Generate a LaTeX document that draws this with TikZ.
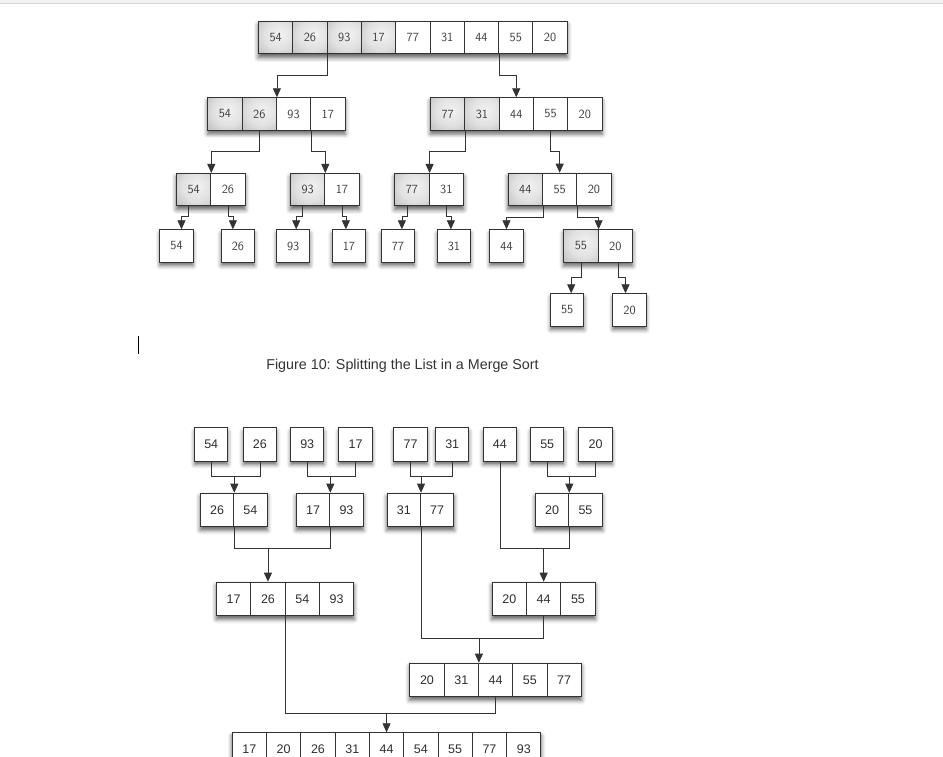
\documentclass[tikz,border=0pt]{standalone}
\usepackage{fontspec}
\newfontfamily\arialfont{Liberation Sans}
\usetikzlibrary{arrows.meta,fit,backgrounds,shadows.blur}

\definecolor{boxline}{HTML}{333333}
\definecolor{digit}{HTML}{3f3f3f}
\pgfdeclareradialshading{cellglow}{\pgfpoint{6bp}{6bp}}{color(0bp)=(black!5); color(22bp)=(black!12); color(50bp)=(black!32); color(75bp)=(black!45)}

\tikzset{
  cell/.style={draw=boxline, line width=1pt, fill=white, minimum width=34.3pt, minimum height=32.4pt,
    inner sep=0pt, anchor=north west, font=\fontsize{12.5}{14}\sffamily, text=digit},
  mcell/.style={cell, minimum width=33.3pt, minimum height=33.3pt, font=\fontsize{12.5}{14}\arialfont, text=black!82},
  half/.style={shade, shading=cellglow},
  plain/.style={},
  box shadow/.style={blur shadow={shadow xshift=0pt, shadow yshift=-3.5pt, shadow blur radius=4pt, shadow opacity=60}},
  single/.style={minimum width=33.4pt, box shadow},
  flow/.style={draw=boxline, line width=0.8pt, -{Triangle[length=9pt,width=8pt]}},
  link/.style={draw=boxline, line width=0.8pt},
}

\begin{document}
\begin{tikzpicture}[x=1pt,y=-1pt]
  \path[use as bounding box] (0,0) rectangle (943,757);
  \fill[black!5] (0,0) rectangle (943,3.2);
  \draw[black!16, line width=0.8pt] (0,3.4) -- (943,3.4);

  % splitting
  \foreach \v/\s [count=\i] in {54/half,26/half,93/half,17/half,77/plain,31/plain,44/plain,55/plain,20/plain}
    \node[cell,\s] (a\i) at ({258+34.3*(\i-1)},21) {\v};
  \foreach \v/\s [count=\i] in {54/half,26/half,93/plain,17/plain}
    \node[cell,\s] (b\i) at ({207.3+34.3*(\i-1)},97.3) {\v};
  \foreach \v/\s [count=\i] in {77/half,31/half,44/plain,55/plain,20/plain}
    \node[cell,\s] (c\i) at ({430+34.3*(\i-1)},97.3) {\v};
  \foreach \v/\s [count=\i] in {54/half,26/plain}
    \node[cell,\s] (d\i) at ({176+34.3*(\i-1)},173) {\v};
  \foreach \v/\s [count=\i] in {93/half,17/plain}
    \node[cell,\s] (e\i) at ({290+34.3*(\i-1)},173) {\v};
  \foreach \v/\s [count=\i] in {77/half,31/plain}
    \node[cell,\s] (f\i) at ({394.3+34.3*(\i-1)},173) {\v};
  \foreach \v/\s [count=\i] in {44/half,55/plain,20/plain}
    \node[cell,\s] (g\i) at ({507.7+34.3*(\i-1)},172.7) {\v};
  \foreach \v/\x [count=\i] in {54/159.3,26/220.7,93/276,17/331.7,77/380.7,31/436.7,44/489.3}
    \node[cell,single] (h\i) at (\x,229.3) {\v};
  \foreach \v/\s [count=\i] in {55/half,20/plain}
    \node[cell,\s] (i\i) at ({563.3+34.3*(\i-1)},229.3) {\v};
  \node[cell,single] (j1) at (550,293.3) {55};
  \node[cell,single] (j2) at (612.3,293.3) {20};

  \draw[flow] (a2.south east) -- ++(0,21) -| (b2.north east);
  \draw[flow] (a7.south east) -- ++(0,21) -| (c3.north);
  \draw[flow] (b2.south) -- ++(0,21) -| (d1.north east);
  \draw[flow] (b3.south east) -- ++(0,21) -| (e1.north east);
  \draw[flow] (c1.south east) -- ++(0,21) -| (f1.north east);
  \draw[flow] (c4.south) -- ++(0,21) -| (g2.north);
  \draw[flow] ([xshift=-5pt]d1.south) -- ++(0,10) -| ([xshift=5pt]h1.north);
  \draw[flow] (d2.south) -- ++(0,10) -| ([xshift=-5pt]h2.north);
  \draw[flow] ([xshift=-5pt]e1.south) -- ++(0,10) -| ([xshift=3pt]h3.north);
  \draw[flow] (e2.south) -- ++(0,10) -| ([xshift=-3pt]h4.north);
  \draw[flow] ([xshift=-5pt]f1.south) -- ++(0,10) -| ([xshift=4pt]h5.north);
  \draw[flow] (f2.south) -- ++(0,10) -| ([xshift=-3pt]h6.north);
  \draw[flow] (g1.south east) -- ++(0,11) -| (h7.north);
  \draw[flow] (g2.south east) -- ++(0,11) -| (i1.north east);
  \draw[flow] (i1.south) -- ++(0,15) -| ([xshift=4pt]j1.north);
  \draw[flow] ([xshift=3.5pt]i2.south) -- ++(0,15) -| ([xshift=-4pt]j2.north);

  \node[font=\fontsize{14.3}{17}\arialfont, text=black!80] (cap) at (402.5,365.5)
    {Figure 10: Splitting the List in a Merge Sort};
  \draw[line width=1.2pt] (138.5,336) -- (138.5,354);

  % merging
  \foreach \v/\x [count=\i] in {54/194,26/242.7,93/290,17/338.3,77/393.3,31/435,44/482.7,55/530,20/578.3}
    \node[mcell,single] (m\i) at (\x,427.3) {\v};
  \foreach \v [count=\i] in {26,54}
    \node[mcell] (n\i) at ({200+33.3*(\i-1)},492.7) {\v};
  \foreach \v [count=\i] in {17,93}
    \node[mcell] (o\i) at ({296+33.3*(\i-1)},492.7) {\v};
  \foreach \v [count=\i] in {31,77}
    \node[mcell] (p\i) at ({386.7+33.3*(\i-1)},492.7) {\v};
  \foreach \v [count=\i] in {20,55}
    \node[mcell] (q\i) at ({535+33.3*(\i-1)},492.7) {\v};
  \foreach \v [count=\i] in {17,26,54,93}
    \node[mcell,minimum width=34.3pt] (r\i) at ({216+34.3*(\i-1)},581.7) {\v};
  \foreach \v [count=\i] in {20,44,55}
    \node[mcell,minimum width=34.3pt] (s\i) at ({491.7+34.3*(\i-1)},581.7) {\v};
  \foreach \v [count=\i] in {20,31,44,55,77}
    \node[mcell,minimum width=34.3pt] (t\i) at ({409.3+34.3*(\i-1)},662.7) {\v};
  \foreach \v [count=\i] in {17,20,26,31,44,54,55,77,93}
    \node[mcell,minimum width=34.3pt] (u\i) at ({231.7+34.3*(\i-1)},732.3) {\v};

  \draw[link] (m1.south) -- ++(0,14.3) coordinate (k1) -| (m2.south);
  \draw[flow] (k1 -| n1.north east) -- (n1.north east);
  \draw[link] (m3.south) -- ++(0,14.3) coordinate (k2) -| (m4.south);
  \draw[flow] (k2 -| o1.north east) -- (o1.north east);
  \draw[link] (m5.south) -- ++(0,14.3) coordinate (k3) -| (m6.south);
  \draw[flow] (k3 -| p1.north east) -- (p1.north east);
  \draw[link] (m8.south) -- ++(0,14.3) coordinate (k4) -| (m9.south);
  \draw[flow] (k4 -| q1.north east) -- (q1.north east);
  \draw[link] (m7.south) -- ++(0,87) coordinate (k5) -| (q1.south east);
  \draw[flow] (k5 -| s2.north) -- (s2.north);
  \draw[link] (n1.south east) -- ++(0,21.7) coordinate (k6) -| (o1.south east);
  \draw[flow] (k6 -| r2.north) -- (r2.north);
  \draw[link] (p1.south east) -- ++(0,111.7) coordinate (k7) -| (s2.south);
  \draw[flow] (k7 -| t2.north east) -- (t2.north east);
  \draw[link] (r2.south east) -- ++(0,97.3) coordinate (k8) -| (t3.south);
  \draw[flow] (k8 -| u5.north) -- (u5.north);

  \begin{scope}[on background layer]
    \node[fit=(a1)(a9), inner sep=0pt, box shadow] {};
    \node[fit=(b1)(b4), inner sep=0pt, box shadow] {};
    \node[fit=(c1)(c5), inner sep=0pt, box shadow] {};
    \node[fit=(d1)(d2), inner sep=0pt, box shadow] {};
    \node[fit=(e1)(e2), inner sep=0pt, box shadow] {};
    \node[fit=(f1)(f2), inner sep=0pt, box shadow] {};
    \node[fit=(g1)(g3), inner sep=0pt, box shadow] {};
    \node[fit=(i1)(i2), inner sep=0pt, box shadow] {};
    \node[fit=(n1)(n2), inner sep=0pt, box shadow] {};
    \node[fit=(o1)(o2), inner sep=0pt, box shadow] {};
    \node[fit=(p1)(p2), inner sep=0pt, box shadow] {};
    \node[fit=(q1)(q2), inner sep=0pt, box shadow] {};
    \node[fit=(r1)(r4), inner sep=0pt, box shadow] {};
    \node[fit=(s1)(s3), inner sep=0pt, box shadow] {};
    \node[fit=(t1)(t5), inner sep=0pt, box shadow] {};
    \node[fit=(u1)(u9), inner sep=0pt, box shadow] {};
  \end{scope}
\end{tikzpicture}
\end{document}
